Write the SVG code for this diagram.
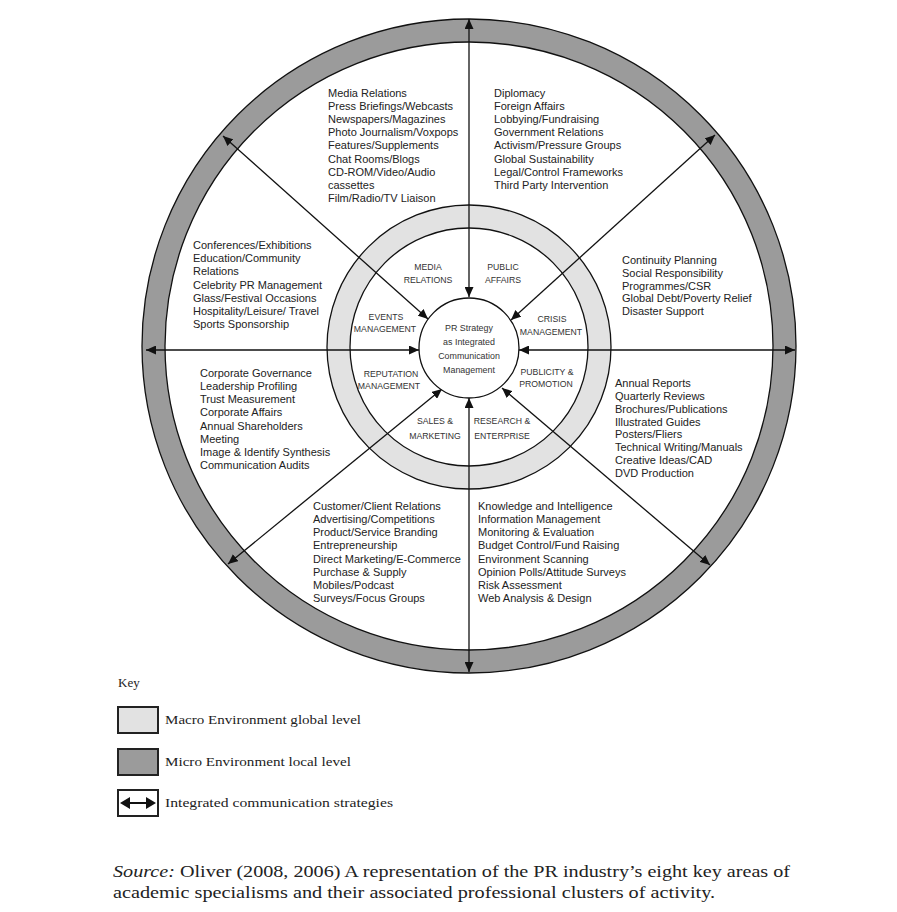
<svg xmlns="http://www.w3.org/2000/svg" width="897" height="912" viewBox="0 0 897 912">
<style>
.ring{stroke:#111;stroke-width:1.3}
.dark{fill:#9b9b9b}
.light{fill:#e2e2e2}
.white{fill:#fff}
.conn line{stroke:#111;stroke-width:1.3;marker-start:url(#ah);marker-end:url(#ah)}
.cl{font-family:"Liberation Sans",Arial,sans-serif;font-size:11px;fill:#222}
.lab{font-family:"Liberation Sans",Arial,sans-serif;font-size:8.7px;fill:#333;text-anchor:middle}
.ctr{font-family:"Liberation Sans",Arial,sans-serif;font-size:8.9px;fill:#333;text-anchor:middle}
.ser{font-family:"Liberation Serif","Times New Roman",serif;fill:#222}
.key{stroke:#222;stroke-width:2}
</style>
<defs>
<marker id="ah" viewBox="0 0 10 9" refX="10" refY="4.5" markerWidth="10" markerHeight="9" markerUnits="userSpaceOnUse" orient="auto-start-reverse">
<path d="M0,0 L10,4.5 L0,9 z" fill="#111"/>
</marker>
</defs>
<rect width="897" height="912" fill="#fff"/>

<g id="outer-ring">
<circle cx="469" cy="346" r="327" class="ring dark"/>
<circle cx="469" cy="346" r="304" class="ring white"/>
</g>
<g id="inner-ring">
<circle cx="469" cy="347" r="142" class="ring light"/>
<circle cx="469" cy="347" r="119" class="ring white"/>
</g>

<g id="connectors" class="conn">
<line x1="469" y1="297" x2="469" y2="19"/>
<line x1="469" y1="398" x2="469" y2="672"/>
<line x1="419" y1="350" x2="146" y2="350"/>
<line x1="519" y1="350" x2="795" y2="350"/>
<line x1="428" y1="319" x2="223" y2="136"/>
<line x1="511" y1="320" x2="715" y2="135"/>
<line x1="442" y1="389" x2="228" y2="564"/>
<line x1="502" y1="388" x2="710" y2="565"/>
</g>

<g id="center">
<circle cx="469" cy="348" r="50" class="ring white"/>
<text class="ctr" x="469" y="330.5">PR Strategy</text>
<text class="ctr" x="469" y="345">as Integrated</text>
<text class="ctr" x="469" y="359">Communication</text>
<text class="ctr" x="469" y="372.5">Management</text>
</g>

<g id="media-relations">
<text class="lab" x="428" y="270">MEDIA</text>
<text class="lab" x="428" y="282.5">RELATIONS</text>
<text class="cl" x="328" y="96.5">Media Relations<tspan x="328" dy="13.2">Press Briefings/Webcasts</tspan><tspan x="328" dy="13.2">Newspapers/Magazines</tspan><tspan x="328" dy="13.2">Photo Journalism/Voxpops</tspan><tspan x="328" dy="13.2">Features/Supplements</tspan><tspan x="328" dy="13.2">Chat Rooms/Blogs</tspan><tspan x="328" dy="13.2">CD-ROM/Video/Audio</tspan><tspan x="328" dy="13.2">cassettes</tspan><tspan x="328" dy="13.2">Film/Radio/TV Liaison</tspan></text>
</g>

<g id="public-affairs">
<text class="lab" x="503" y="270">PUBLIC</text>
<text class="lab" x="503" y="282.5">AFFAIRS</text>
<text class="cl" x="494" y="96.5">Diplomacy<tspan x="494" dy="13.2">Foreign Affairs</tspan><tspan x="494" dy="13.2">Lobbying/Fundraising</tspan><tspan x="494" dy="13.2">Government Relations</tspan><tspan x="494" dy="13.2">Activism/Pressure Groups</tspan><tspan x="494" dy="13.2">Global Sustainability</tspan><tspan x="494" dy="13.2">Legal/Control Frameworks</tspan><tspan x="494" dy="13.2">Third Party Intervention</tspan></text>
</g>

<g id="events-management">
<text class="lab" x="386" y="319.5">EVENTS</text>
<text class="lab" x="385" y="331.5">MANAGEMENT</text>
<text class="cl" x="193" y="249">Conferences/Exhibitions<tspan x="193" dy="13.17">Education/Community</tspan><tspan x="193" dy="13.17">Relations</tspan><tspan x="193" dy="13.17">Celebrity PR Management</tspan><tspan x="193" dy="13.17">Glass/Festival Occasions</tspan><tspan x="193" dy="13.17">Hospitality/Leisure/ Travel</tspan><tspan x="193" dy="13.17">Sports Sponsorship</tspan></text>
</g>

<g id="crisis-management">
<text class="lab" x="552" y="321.5">CRISIS</text>
<text class="lab" x="551" y="335">MANAGEMENT</text>
<text class="cl" x="622" y="264">Continuity Planning<tspan x="622" dy="12.75">Social Responsibility</tspan><tspan x="622" dy="12.75">Programmes/CSR</tspan><tspan x="622" dy="12.75">Global Debt/Poverty Relief</tspan><tspan x="622" dy="12.75">Disaster Support</tspan></text>
</g>

<g id="reputation-management">
<text class="lab" x="391" y="377">REPUTATION</text>
<text class="lab" x="389" y="389">MANAGEMENT</text>
<text class="cl" x="200" y="377">Corporate Governance<tspan x="200" dy="13.14">Leadership Profiling</tspan><tspan x="200" dy="13.14">Trust Measurement</tspan><tspan x="200" dy="13.14">Corporate Affairs</tspan><tspan x="200" dy="13.14">Annual Shareholders</tspan><tspan x="200" dy="13.14">Meeting</tspan><tspan x="200" dy="13.14">Image &amp; Identify Synthesis</tspan><tspan x="200" dy="13.14">Communication Audits</tspan></text>
</g>

<g id="publicity-promotion">
<text class="lab" x="547" y="375">PUBLICITY &amp;</text>
<text class="lab" x="546" y="386.5">PROMOTION</text>
<text class="cl" x="615" y="387">Annual Reports<tspan x="615" dy="12.86">Quarterly Reviews</tspan><tspan x="615" dy="12.86">Brochures/Publications</tspan><tspan x="615" dy="12.86">Illustrated Guides</tspan><tspan x="615" dy="12.86">Posters/Fliers</tspan><tspan x="615" dy="12.86">Technical Writing/Manuals</tspan><tspan x="615" dy="12.86">Creative Ideas/CAD</tspan><tspan x="615" dy="12.86">DVD Production</tspan></text>
</g>

<g id="sales-marketing">
<text class="lab" x="435" y="424">SALES &amp;</text>
<text class="lab" x="435" y="439">MARKETING</text>
<text class="cl" x="313" y="510">Customer/Client Relations<tspan x="313" dy="13.14">Advertising/Competitions</tspan><tspan x="313" dy="13.14">Product/Service Branding</tspan><tspan x="313" dy="13.14">Entrepreneurship</tspan><tspan x="313" dy="13.14">Direct Marketing/E-Commerce</tspan><tspan x="313" dy="13.14">Purchase &amp; Supply</tspan><tspan x="313" dy="13.14">Mobiles/Podcast</tspan><tspan x="313" dy="13.14">Surveys/Focus Groups</tspan></text>
</g>

<g id="research-enterprise">
<text class="lab" x="502" y="424">RESEARCH &amp;</text>
<text class="lab" x="502" y="439">ENTERPRISE</text>
<text class="cl" x="478" y="510">Knowledge and Intelligence<tspan x="478" dy="13.14">Information Management</tspan><tspan x="478" dy="13.14">Monitoring &amp; Evaluation</tspan><tspan x="478" dy="13.14">Budget Control/Fund Raising</tspan><tspan x="478" dy="13.14">Environment Scanning</tspan><tspan x="478" dy="13.14">Opinion Polls/Attitude Surveys</tspan><tspan x="478" dy="13.14">Risk Assessment</tspan><tspan x="478" dy="13.14">Web Analysis &amp; Design</tspan></text>
</g>

<g id="key">
<text class="ser" x="118" y="687" font-size="13">Key</text>
<rect x="118" y="707" width="40" height="26" class="key" fill="#e2e2e2"/>
<text class="ser" x="165" y="724" font-size="13" textLength="196" lengthAdjust="spacingAndGlyphs">Macro Environment global level</text>
<rect x="118" y="749" width="40" height="26" class="key" fill="#9b9b9b"/>
<text class="ser" x="165" y="766" font-size="13" textLength="186" lengthAdjust="spacingAndGlyphs">Micro Environment local level</text>
<rect x="118" y="790" width="40" height="26" class="key" fill="#fff"/>
<line x1="122" y1="803" x2="154" y2="803" stroke="#111" stroke-width="2"/>
<path d="M120,803 L130,797 L130,809 z M156,803 L146,797 L146,809 z" fill="#111"/>
<text class="ser" x="165" y="807" font-size="13" textLength="228" lengthAdjust="spacingAndGlyphs">Integrated communication strategies</text>
</g>

<g id="caption">
<text class="ser" x="113" y="877" font-size="16" textLength="677" lengthAdjust="spacingAndGlyphs"><tspan font-style="italic">Source:</tspan> Oliver (2008, 2006) A representation of the PR industry’s eight key areas of</text>
<text class="ser" x="113" y="898" font-size="16" textLength="602" lengthAdjust="spacingAndGlyphs">academic specialisms and their associated professional clusters of activity.</text>
</g>
</svg>
